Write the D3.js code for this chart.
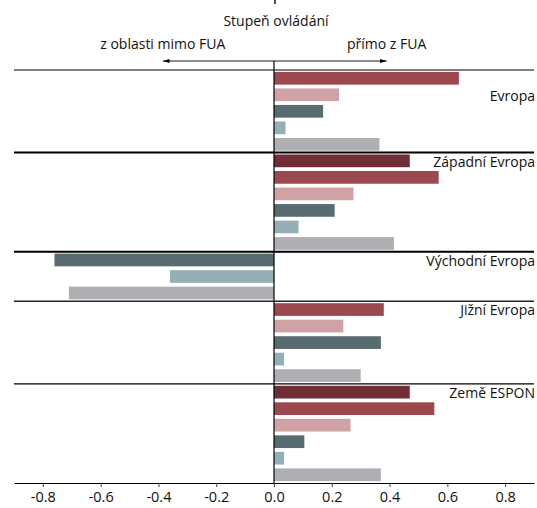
<!DOCTYPE html>
<html>
<head>
<meta charset="utf-8">
<script src="https://cdn.jsdelivr.net/npm/d3@7"></script>
<style>
  body { margin: 0; background: #fff; }
  text { font-family: "Open Sans", sans-serif; fill: #111; }
</style>
</head>
<body>
<div id="chart"></div>
<script>
// regiony (shora dolu)
var regiony = ["Evropa", "Západní Evropa", "Východní Evropa", "Jižní Evropa", "Země ESPON"];

// hodnoty jednotlivych serii, null = sloupec chybi
var serie1 = [null, 0.47, null, null, 0.47];
var serie2 = [0.64, 0.57, null, 0.38, 0.555];
var serie3 = [0.225, 0.275, null, 0.24, 0.265];
var serie4 = [0.17, 0.21, -0.76, 0.37, 0.105];
var serie5 = [0.04, 0.085, -0.36, 0.035, 0.035];
var serie6 = [0.365, 0.415, -0.71, 0.30, 0.37];

var barvy = ["#722e37", "#9b484f", "#cfa2a5", "#586b71", "#95b0b4", "#aeafb3"];
var tickHodnoty = [-0.8, -0.6, -0.4, -0.2, 0.0, 0.2, 0.4, 0.6, 0.8];

var width = 537, height = 508;
var svg = d3.select("#chart").append("svg")
    .attr("width", width)
    .attr("height", height);

var serie = [serie1, serie2, serie3, serie4, serie5, serie6];

// radky grafu - jen existujici sloupce
var radky = [];
var skupiny = [];
regiony.forEach(function (region, i) {
    var start = radky.length;
    serie.forEach(function (s, j) {
        if (s[i] !== null) {
            radky.push({ key: i + "-" + j, region: region, serie: j, hodnota: s[i] });
        }
    });
    skupiny.push({ region: region, start: start, pocet: radky.length - start });
});

var x = d3.scaleLinear().domain([-0.9, 0.9]).range([14, 534]);
var y = d3.scaleBand()
    .domain(radky.map(function (r) { return r.key; }))
    .range([70, 483])
    .paddingInner(0.23)
    .paddingOuter(0.115);
var krok = y.step();

// sloupce
svg.append("g").selectAll("rect")
    .data(radky)
    .enter().append("rect")
    .attr("x", function (r) { return x(Math.min(0, r.hodnota)); })
    .attr("y", function (r) { return y(r.key); })
    .attr("width", function (r) { return Math.abs(x(r.hodnota) - x(0)); })
    .attr("height", y.bandwidth())
    .attr("fill", function (r) { return barvy[r.serie]; });

// oddelovace skupin
var tloustky = [1.3, 2, 2, 1.6, 1.1];
var barvyCar = ["#555", "#000", "#000", "#222", "#000"];
skupiny.forEach(function (g, i) {
    var yy = 70 + g.start * krok;
    svg.append("line")
        .attr("x1", 14).attr("x2", 534)
        .attr("y1", yy).attr("y2", yy)
        .attr("stroke", barvyCar[i])
        .attr("stroke-width", tloustky[i]);

    // popisek - u Evropy az u druheho sloupce
    var r = radky[g.start + (i === 0 ? 1 : 0)];
    svg.append("text")
        .attr("x", 535)
        .attr("y", y(r.key) + y.bandwidth() - 0.5)
        .attr("text-anchor", "end")
        .style("font-size", "14px")
        .text(g.region);
});

// osa x
var osa = d3.axisBottom(x)
    .tickValues(tickHodnoty)
    .tickFormat(function (d) { return d.toFixed(1); })
    .tickSize(4)
    .tickSizeOuter(0)
    .tickPadding(5);

var gOsa = svg.append("g")
    .attr("transform", "translate(0,483)")
    .call(osa);
gOsa.select(".domain").attr("stroke", "#000").attr("stroke-width", 1.2);
gOsa.selectAll(".tick line").attr("stroke", "#444");
gOsa.selectAll(".tick text")
    .style("font-family", "'Open Sans', sans-serif")
    .style("font-size", "14.5px")
    .attr("fill", "#111");

// svisla nulova cara
svg.append("line")
    .attr("x1", x(0)).attr("x2", x(0))
    .attr("y1", 61).attr("y2", 483)
    .attr("stroke", "#000")
    .attr("stroke-width", 1.2);

// sipky v zahlavi
var defs = svg.append("defs");
defs.append("marker")
    .attr("id", "sipka")
    .attr("viewBox", "0 0 10 6")
    .attr("refX", 10).attr("refY", 3)
    .attr("markerWidth", 7).attr("markerHeight", 4)
    .attr("markerUnits", "userSpaceOnUse")
    .attr("orient", "auto")
    .append("path")
    .attr("d", "M0,0 L10,3 L0,6 Z")
    .attr("fill", "#000");

svg.append("line")
    .attr("x1", x(0)).attr("x2", x(-0.385))
    .attr("y1", 61).attr("y2", 61)
    .attr("stroke", "#000").attr("stroke-width", 0.9)
    .attr("marker-end", "url(#sipka)");
svg.append("line")
    .attr("x1", x(0)).attr("x2", x(0.39))
    .attr("y1", 61).attr("y2", 61)
    .attr("stroke", "#000").attr("stroke-width", 0.9)
    .attr("marker-end", "url(#sipka)");

svg.append("text")
    .attr("x", 276).attr("y", 26)
    .attr("text-anchor", "middle")
    .style("font-size", "14px")
    .text("Stupeň ovládání");
svg.append("text")
    .attr("x", x(-0.385)).attr("y", 49)
    .attr("text-anchor", "middle")
    .style("font-size", "14px")
    .text("z oblasti mimo FUA");
svg.append("text")
    .attr("x", x(0.39)).attr("y", 49)
    .attr("text-anchor", "middle")
    .style("font-size", "14px")
    .text("přímo z FUA");

// zbytek oriznuteho nadpisu nad obrazkem (jen tah pismene)
svg.append("line")
    .attr("x1", 275).attr("x2", 275)
    .attr("y1", 0).attr("y2", 4)
    .attr("stroke", "#222")
    .attr("stroke-width", 1.6);
</script>
</body>
</html>
